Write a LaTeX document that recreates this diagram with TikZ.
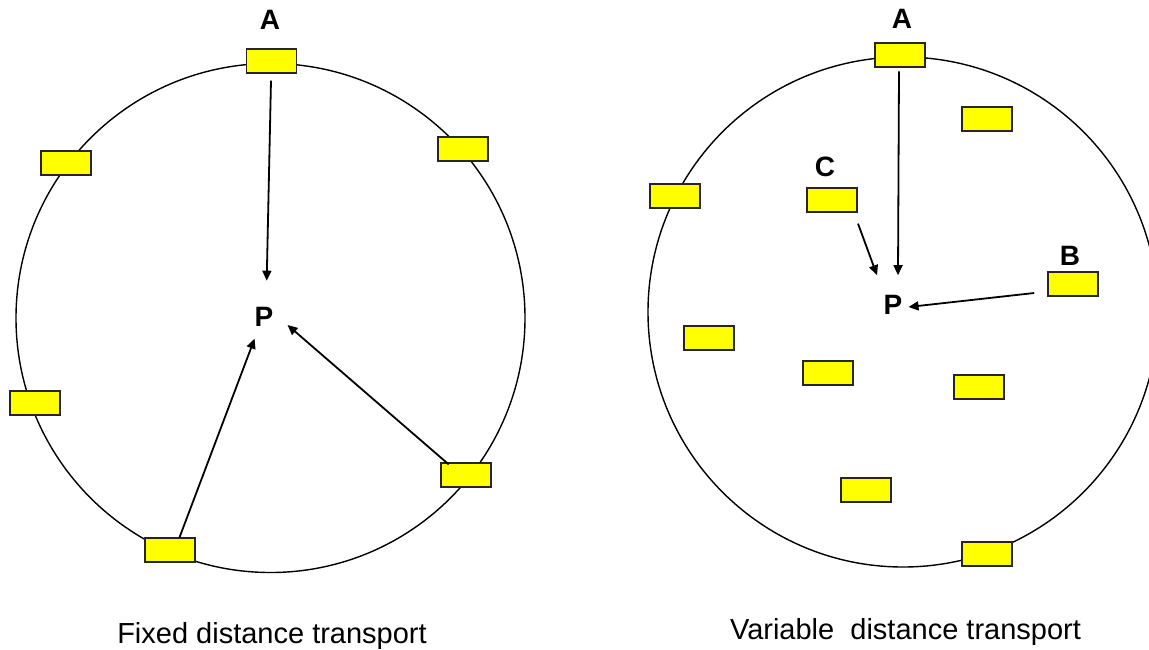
\documentclass[tikz,border=0pt]{standalone}
\usepackage{fontspec}
\setmainfont{Liberation Sans}
\usetikzlibrary{arrows.meta}
\definecolor{boxyellow}{HTML}{FFFF00}
\begin{document}
\begin{tikzpicture}[x=1pt,y=-1pt,
  ybox/.style={draw=black!85, line width=1.2pt, fill=boxyellow, minimum width=50pt, minimum height=24pt, inner sep=0pt},
  lbl/.style={font=\fontsize{28}{31}\selectfont\bfseries, inner sep=0pt},
  captxt/.style={font=\fontsize{29}{33}\selectfont, inner sep=0pt, anchor=base},
  ring/.style={line width=1.4pt},
  arr/.style={line width=1.8pt, -{Triangle[length=10pt,width=9pt]}}]
\useasboundingbox (0,0) rectangle (1149,649);
\clip (0,0) rectangle (1149,649);
% circles
\draw[ring] (270.5,318) circle[radius=254.5];
\draw[ring] (903,312) circle[radius=255];
% left boxes
\node[ybox] (lA)  at (271.5,61) {};
\node[ybox] (lNW) at (66,163) {};
\node[ybox] (lNE) at (463,149) {};
\node[ybox] (lW)  at (35,403) {};
\node[ybox] (lS)  at (170,550) {};
\node[ybox] (lSE) at (466,475) {};
% right boxes
\node[ybox] (rA)  at (900,55) {};
\node[ybox] (rNE) at (987,119) {};
\node[ybox] (rC)  at (832,200) {};
\node[ybox] (rW)  at (675,196) {};
\node[ybox] (rB)  at (1073,284) {};
\node[ybox] (rW3) at (709,338) {};
\node[ybox] (rM1) at (828,373) {};
\node[ybox] (rM2) at (979,387) {};
\node[ybox] (rM3) at (866,490) {};
\node[ybox] (rS)  at (987,554) {};
% labels
\node[lbl] (lAlbl) at (270,20) {A};
\node[lbl] (lP) at (264,316.5) {P};
\node[lbl] (rAlbl) at (902,19) {A};
\node[lbl] (rClbl) at (825,167) {C};
\node[lbl] (rBlbl) at (1070,256) {B};
\node[lbl] (rP) at (893,305) {P};
% captions
\node[captxt] (lcap) at (272,643) {Fixed distance transport};
\node[captxt] (rcap) at (905.5,639) {Variable\ \ distance transport};
% arrows left
\draw[arr] ([shift={(-0.5,7)}]lA.south) -- ([shift={(2.7,-26)}]lP.north);
\draw[arr] ([shift={(9.5,0)}]lS.north) -- ([shift={(-9.4,12.3)}]lP.south);
\draw[arr] ([shift={(-17.3,2)}]lSE.north) -- ([shift={(14,8.5)}]lP.east);
% arrows right
\draw[arr] ([shift={(-1,3.7)}]rA.south) -- ([shift={(5,-20)}]rP.north);
\draw[arr] ([shift={(26,11)}]rC.south) -- ([shift={(-16,-20)}]rP.north);
\draw[arr] ([shift={(-13.2,9)}]rB.west) -- ([shift={(6,2)}]rP.east);
\end{tikzpicture}
\end{document}
